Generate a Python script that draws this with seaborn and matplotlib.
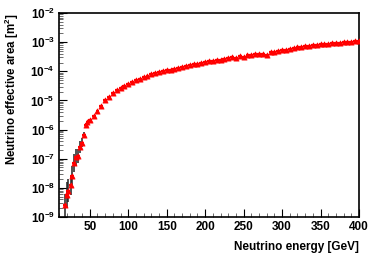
import numpy as np
import pandas as pd
import matplotlib
matplotlib.use("Agg")
import matplotlib.pyplot as plt
import matplotlib.ticker as mticker
import seaborn as sns

# energies [GeV] and log10(effective area [m^2])
energy = [18, 20, 22, 25, 27, 30, 32, 35, 37, 40, 42, 45, 47, 50, 55, 60, 65, 70, 75, 80,
          85, 90, 95, 100, 105, 110, 115, 120, 125, 130, 135, 140, 145, 150, 155, 160,
          165, 170, 175, 180, 185, 190, 195, 200, 205, 210, 215, 220, 225, 230, 235,
          240, 245, 250, 255, 260, 265, 270, 275, 280, 285, 290, 295, 300, 305, 310,
          315, 320, 325, 330, 335, 340, 345, 350, 355, 360, 365, 370, 375, 380, 385,
          390, 395, 400]
log_area = [-8.6, -8.25, -8.1, -7.9, -7.6, -7.15, -6.95, -6.9, -6.6, -6.45, -6.2, -5.85,
            -5.75, -5.66, -5.52, -5.35, -5.2, -4.97, -4.88, -4.74, -4.64, -4.57, -4.5,
            -4.45, -4.38, -4.31, -4.27, -4.2, -4.15, -4.1, -4.07, -4.03, -4.0, -3.97,
            -3.94, -3.92, -3.88, -3.85, -3.82, -3.79, -3.76, -3.74, -3.71, -3.69, -3.66,
            -3.63, -3.61, -3.6, -3.57, -3.54, -3.5, -3.53, -3.46, -3.51, -3.45, -3.43,
            -3.42, -3.4, -3.39, -3.43, -3.35, -3.33, -3.3, -3.28, -3.27, -3.24, -3.2,
            -3.18, -3.17, -3.14, -3.13, -3.1, -3.09, -3.07, -3.06, -3.05, -3.04, -3.03,
            -3.02, -3.0, -2.99, -2.98, -2.97, -2.96]
# half-length of the black error bars (in decades) for the low-energy points
low_err = [0.4, 0.45, 0.4, 0.35, 0.35, 0.3, 0.3, 0.25, 0.2, 0.15, 0.1, 0.08, 0.05]

df = pd.DataFrame({"energy": energy, "area": 10.0 ** np.array(log_area)})

plt.rcParams["font.family"] = ["Liberation Sans", "DejaVu Sans"]
plt.rcParams["font.weight"] = "bold"
plt.rcParams["mathtext.fontset"] = "custom"
plt.rcParams["mathtext.rm"] = "Liberation Sans:bold"
plt.rcParams["mathtext.bf"] = "Liberation Sans:bold"
plt.rcParams["mathtext.default"] = "bf"

fig = plt.figure(figsize=(3.74, 2.54), dpi=100)
ax = fig.add_axes([59 / 374, 1 - 217 / 254, 300 / 374, 204 / 254])

# black vertical error bars at low energy
n = len(low_err)
lo = df["area"][:n] - 10.0 ** (np.array(log_area[:n]) - np.array(low_err))
hi = 10.0 ** (np.array(log_area[:n]) + np.array(low_err)) - df["area"][:n]
ax.errorbar(df["energy"][:n], df["area"][:n], yerr=[lo, hi], fmt="none",
            ecolor="#222222", elinewidth=1.1, capsize=0, zorder=2)

# red horizontal bars (bin widths) making the continuous curve
ax.errorbar(df["energy"], df["area"], xerr=2.5, fmt="none",
            ecolor="red", elinewidth=1.6, capsize=0, zorder=3)
sns.scatterplot(data=df, x="energy", y="area", marker="^", color="red",
                s=14, edgecolor="red", linewidth=0.5, ax=ax, zorder=4)

ax.set_yscale("log")
ax.set_xlim(10, 400)
ax.set_ylim(1e-9, 1e-2)

ax.xaxis.set_major_locator(mticker.MultipleLocator(50))
ax.xaxis.set_minor_locator(mticker.MultipleLocator(10))
ax.xaxis.set_major_formatter(mticker.FuncFormatter(
    lambda v, p: "" if v < 50 else f"{int(v)}"))
ax.yaxis.set_major_locator(mticker.LogLocator(base=10, numticks=12))
ax.yaxis.set_minor_locator(mticker.LogLocator(base=10, subs=np.arange(2, 10), numticks=12))
ax.yaxis.set_major_formatter(mticker.FuncFormatter(
    lambda v, p: r"$10^{%d}$" % int(round(np.log10(v)))))
ax.yaxis.set_minor_formatter(mticker.NullFormatter())

ax.tick_params(axis="both", which="major", direction="in", length=6, width=0.8,
               labelsize=8.5, pad=3, colors="black")
ax.tick_params(axis="both", which="minor", direction="in", length=3, width=0.6,
               color="#555555")
ax.tick_params(top=False, right=False, which="both")

for s in ax.spines.values():
    s.set_color("black")
    s.set_linewidth(1.2)

ax.set_xlabel("Neutrino energy [GeV]", fontsize=8.5, fontweight="bold")
ax.xaxis.set_label_coords(1.0, -0.12)
ax.xaxis.label.set_horizontalalignment("right")
ax.set_ylabel(r"Neutrino effective area [m$^2$]", fontsize=8.3, fontweight="bold")
ax.yaxis.set_label_coords(-0.128, 0.627)

fig.savefig("out.png", dpi=100)
